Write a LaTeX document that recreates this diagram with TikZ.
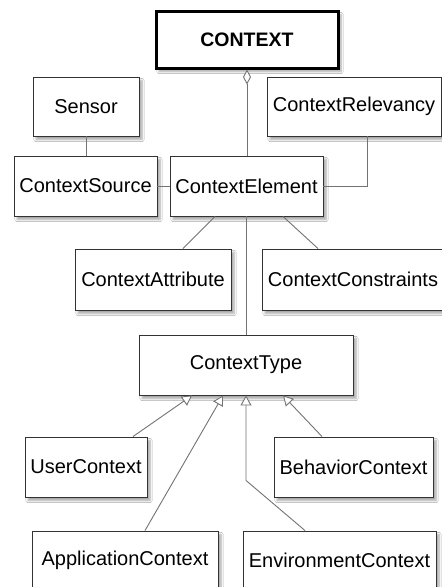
\documentclass[tikz,border=0pt]{standalone}
\usepackage{fontspec}
\setmainfont{Liberation Sans}
\usetikzlibrary{arrows.meta,shadows.blur,calc}

\tikzset{
  x=1pt, y=-1pt,
  cls/.style={draw=black!80, line width=0.9pt, fill=white, inner sep=0pt,
    font=\fontsize{20}{23}\selectfont,
    blur shadow={shadow xshift=3pt, shadow yshift=-3.5pt, shadow blur steps=6, shadow opacity=35}},
  root/.style={cls, line width=3pt, draw=black, font=\fontsize{19.5}{22}\selectfont\bfseries},
  link/.style={draw=black!55, line width=0.9pt},
  aggr/.style={link, {Diamond[open, fill=white, length=15pt, width=8pt]}-},
  gen/.style={link, -{Triangle[open, fill=white, length=10pt, width=11pt]}}
}

\begin{document}
\begin{tikzpicture}
  \path[use as bounding box, clip] (0,0) rectangle (442,587);
  \fill[white] (0,0) rectangle (442,587);

  % classes
  \node[root, minimum width=182pt, minimum height=57pt] (context) at (247,39.5) {CONTEXT};
  \node[cls, minimum width=106pt, minimum height=59pt] (sensor) at (86,106.5) {Sensor};
  \node[cls, minimum width=174pt, minimum height=59pt] (relev) at (354,106.5) {ContextRelevancy};
  \node[cls, minimum width=143pt, minimum height=60pt] (source) at (85.5,186) {ContextSource};
  \node[cls, minimum width=153pt, minimum height=60pt] (element) at (246.5,186) {ContextElement};
  \node[cls, minimum width=156pt, minimum height=61pt] (attr) at (153,279.5) {ContextAttribute};
  \node[cls, minimum width=182pt, minimum height=61pt] (constr) at (353,279.5) {ContextConstraints};
  \node[cls, minimum width=214pt, minimum height=60pt] (type) at (246,365) {ContextType};
  \node[cls, minimum width=122pt, minimum height=60pt] (user) at (86,467) {UserContext};
  \node[cls, minimum width=159pt, minimum height=60pt] (behav) at (353.5,467) {BehaviorContext};
  \node[cls, minimum width=186pt, minimum height=58pt] (appl) at (125,560) {ApplicationContext};
  \node[cls, minimum width=193pt, minimum height=58pt] (env) at (339.5,560) {EnvironmentContext};

  % associations
  \draw[aggr] (context.south) -- (context.south |- element.north);
  \draw[link] (sensor.south) -- (sensor.south |- source.north);
  \draw[link] (source.east) -- (element.west);
  \draw[link] (element.east) -| ([xshift=13pt]relev.south);
  \draw[link] ([xshift=-31.5pt]element.south) -- ([xshift=30pt]attr.north);
  \draw[link] ([xshift=36.5pt]element.south) -- ([xshift=-35pt]constr.north);
  \draw[link] (element.south -| type.north) -- (type.north);

  % generalizations
  \draw[gen] ([xshift=47pt]user.north) -- ([xshift=-54pt]type.south);
  \draw[gen] ([xshift=20pt]appl.north) -- ([xshift=-23pt]type.south);
  \coordinate (bend) at ($(type.south)+(0,85)$);
  \draw[gen] ([xshift=-34.5pt]env.north) -- (bend) -- (type.south);
  \draw[gen] ([xshift=-31.5pt]behav.north) -- ([xshift=37pt]type.south);
\end{tikzpicture}
\end{document}
